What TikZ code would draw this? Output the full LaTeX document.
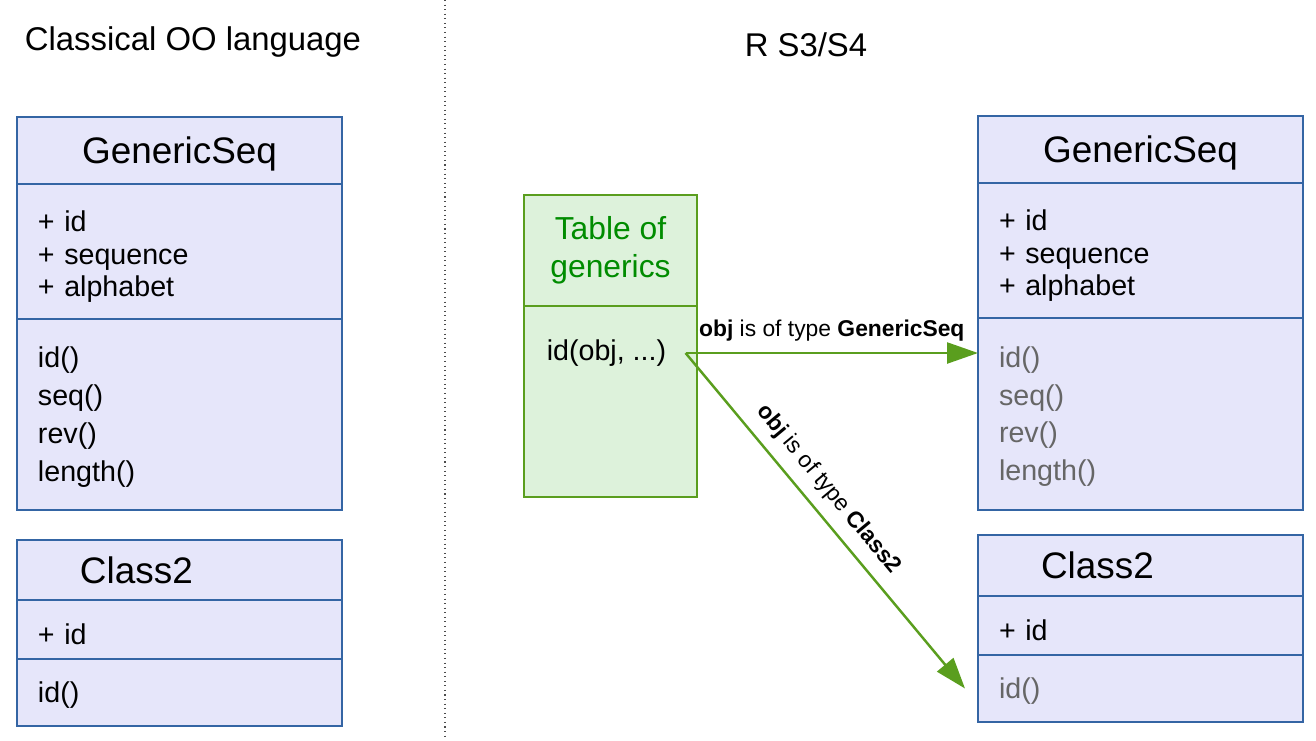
\documentclass[tikz,border=0pt]{standalone}
\usepackage{fontspec}
\setmainfont{Liberation Sans}
\usepackage{xcolor}
\usepackage{tikz}
\usetikzlibrary{
    positioning,
    arrows.meta,
}
\definecolor{umlblue}{RGB}{52,101,164}
\definecolor{umlfill}{RGB}{230,230,250}
\definecolor{genfill}{RGB}{221,242,219}
\definecolor{genline}{RGB}{90,158,30}
\definecolor{gentext}{RGB}{0,140,0}
\definecolor{methgray}{RGB}{102,102,102}
\tikzset{
    % Class box styles
    compart/.style={rectangle, draw=umlblue, fill=umlfill, line width=1.6pt, outer sep=0pt,
                    minimum width=6.5cm, text width=5.66cm, inner xsep=0.42cm, inner ysep=0pt},
    class head/.style={compart, align=center, font=\fontsize{21}{25}\selectfont},
    head low/.style={execute at begin node={\rule{0pt}{0.69cm}}},
    attr part/.style={compart, align=left, font=\fontsize{16.3}{18.7}\selectfont,
                      execute at begin node={\rule{0pt}{0.62cm}}},
    meth part/.style={compart, align=left, font=\fontsize{16.3}{21.5}\selectfont,
                      execute at begin node={\rule{0pt}{0.52cm}}},
    % Generic table styles
    gen box/.style={rectangle, draw=genline, fill=genfill, line width=1.6pt, outer sep=0pt,
                    minimum width=3.46cm, inner sep=0pt},
    % Arrow styles
    dispatch/.style={-{Triangle[length=0.62cm, width=0.42cm]}, line width=1.4pt, genline},
    disp label/.style={font=\fontsize{13}{15}\selectfont, text=black},
    side title/.style={font=\fontsize{18.7}{22}\selectfont},
}

\begin{document}
\begin{tikzpicture}
    \useasboundingbox (0,0) rectangle (26.32,-14.8);

    % Titles and separator
    \node[side title] (leftTitle) at (3.86,-0.84) {Classical OO language};
    \node[side title] (rightTitle) at (16.12,-0.9) {R S3/S4};
    \draw[dotted, line width=0.6pt, gray!60!black] (8.9,0) -- (8.9,-14.8);

    % Classical OO side
    \node[class head, head low, minimum height=1.34cm, anchor=north west] (gsLhead) at (0.34,-2.34) {GenericSeq};
    \node[attr part, minimum height=2.7cm, below=0pt of gsLhead] (gsLattr) {+ id\\+ sequence\\+ alphabet};
    \node[meth part, minimum height=3.82cm, below=0pt of gsLattr] (gsLmeth) {id()\\seq()\\rev()\\length()};

    \node[class head, align=left, minimum height=1.2cm, anchor=north west] (c2Lhead) at (0.34,-10.8) {\hspace*{0.84cm}Class2};
    \node[attr part, minimum height=1.18cm, below=0pt of c2Lhead] (c2Lattr) {+ id};
    \node[meth part, minimum height=1.34cm, below=0pt of c2Lattr] (c2Lmeth) {id()};

    % R side: classes
    \node[class head, head low, minimum height=1.34cm, anchor=north west] (gsRhead) at (19.56,-2.32) {GenericSeq};
    \node[attr part, minimum height=2.7cm, below=0pt of gsRhead] (gsRattr) {+ id\\+ sequence\\+ alphabet};
    \node[meth part, text=methgray, minimum height=3.84cm, below=0pt of gsRattr] (gsRmeth) {id()\\seq()\\rev()\\length()};

    \node[class head, align=left, minimum height=1.22cm, anchor=north west] (c2Rhead) at (19.56,-10.7) {\hspace*{0.84cm}Class2};
    \node[attr part, minimum height=1.18cm, below=0pt of c2Rhead] (c2Rattr) {+ id};
    \node[meth part, text=methgray, minimum height=1.34cm, below=0pt of c2Rattr] (c2Rmeth) {id()};

    % R side: table of generics
    \node[gen box, minimum height=2.22cm, anchor=north west, align=center, text=gentext,
          font=\fontsize{18.1}{21.5}\selectfont] (tblHead) at (10.48,-3.9) {Table of\\generics};
    \node[gen box, minimum height=3.82cm, below=0pt of tblHead] (tblBody) {};
    \node[font=\fontsize{16.3}{18.7}\selectfont, inner xsep=0.38cm] (idf) at (12.13,-7.06) {id(obj, ...)};

    % Dispatch
    \draw[dispatch] (idf.east) -- (gsRmeth.west |- idf.east)
        node[midway, above=0.1cm, disp label] {\textbf{obj} is of type \textbf{GenericSeq}};
    \draw[dispatch] (idf.east) -- ([xshift=-0.26cm]c2Rmeth.west)
        node[pos=0.45, sloped, above=0.1cm, disp label] {\textbf{obj} is of type \textbf{Class2}};
\end{tikzpicture}
\end{document}
